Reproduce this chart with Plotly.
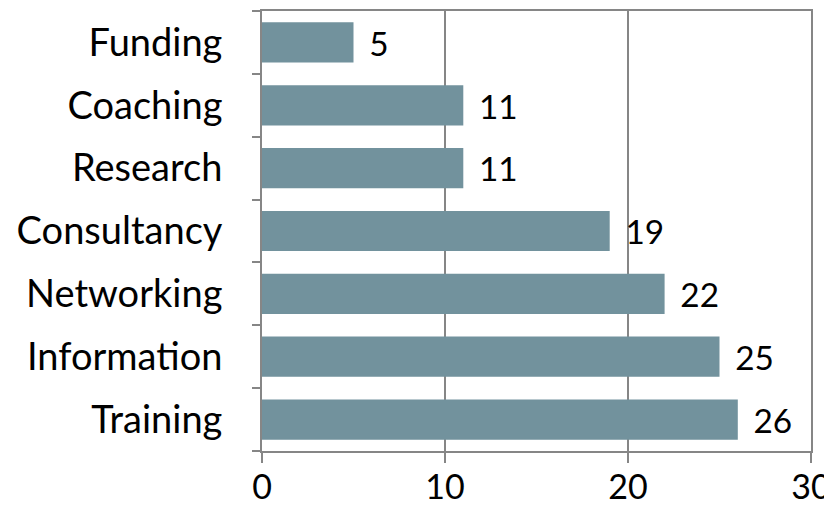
import plotly.graph_objects as go

categories = ["Training", "Information", "Networking", "Consultancy", "Research", "Coaching", "Funding"]
values = [26, 25, 22, 19, 11, 11, 5]

fig = go.Figure(go.Bar(
    x=values, y=categories, orientation="h",
    marker=dict(color="#72929d", line=dict(width=0)),
    text=values, textposition="outside",
    texttemplate="\u00a0\u2009%{x}",
    textfont=dict(size=34, color="#000000", family="Lato"),
    cliponaxis=False,
))

# page body adds an 8px offset, so the figure is sized to the remaining space
fig.update_layout(
    width=824, height=498,
    margin=dict(l=254, r=21, t=3, b=55, autoexpand=False),
    plot_bgcolor="white", paper_bgcolor="white",
    font=dict(family="Lato", size=38, color="#000000"),
    bargap=0.36,
    showlegend=False,
)
fig.update_xaxes(
    range=[0, 30], dtick=10, showgrid=True, gridcolor="#868686", gridwidth=1.5,
    showline=True, linecolor="#868686", linewidth=2, mirror=True,
    ticks="outside", ticklen=10, tickcolor="#868686", tickwidth=2,
    zeroline=False, tickfont=dict(size=34), ticklabelstandoff=-5,
    automargin=False,
)
fig.update_yaxes(
    showline=True, linecolor="#868686", linewidth=2, mirror=True,
    ticks="outside", tickson="boundaries", ticklen=8, tickcolor="#868686", tickwidth=2,
    showgrid=False, ticklabelstandoff=30, automargin=False,
)

fig.write_html("out.html")
